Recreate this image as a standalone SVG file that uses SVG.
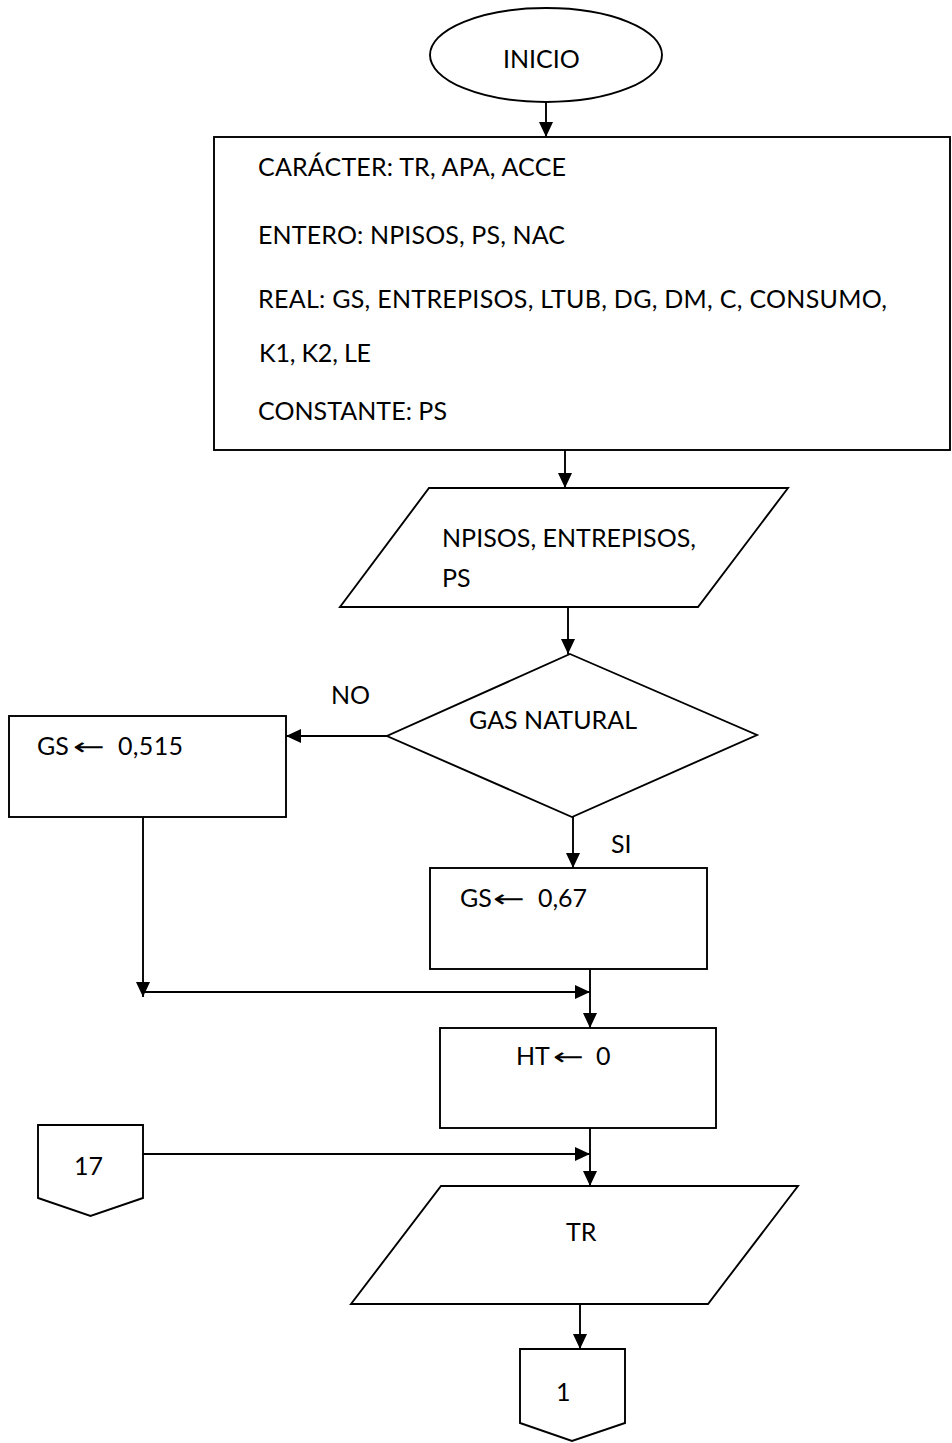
<svg xmlns="http://www.w3.org/2000/svg" width="952" height="1443" viewBox="0 0 952 1443">
  <style>
    .shape { fill: #ffffff; stroke: #000000; stroke-width: 1.9; }
    .edge { fill: none; stroke: #000000; stroke-width: 1.9; }
    .lbl { font-family: Lato, "Open Sans", sans-serif; font-size: 25px; fill: #000000; }
    .arr { font-family: "DejaVu Sans", sans-serif; font-size: 24px; fill: #000000; }
  </style>
  <defs>
    <marker id="head" viewBox="0 0 15 14" refX="15" refY="7" markerWidth="15" markerHeight="14" markerUnits="userSpaceOnUse" orient="auto">
      <path d="M0,0 L15,7 L0,14 Z" fill="#000000"/>
    </marker>
  </defs>
  <rect width="952" height="1443" fill="#ffffff"/>

  <!-- connectors -->
  <g id="connectors">
    <line class="edge" x1="546" y1="100" x2="546" y2="137" marker-end="url(#head)"/>
    <line class="edge" x1="565" y1="437" x2="565" y2="488" marker-end="url(#head)"/>
    <line class="edge" x1="568" y1="607" x2="568" y2="654" marker-end="url(#head)"/>
    <line class="edge" x1="387" y1="736" x2="286" y2="736" marker-end="url(#head)"/>
    <line class="edge" x1="573" y1="817" x2="573" y2="868" marker-end="url(#head)"/>
    <line class="edge" x1="143" y1="812" x2="143" y2="997" marker-end="url(#head)"/>
    <line class="edge" x1="143" y1="992" x2="590" y2="992" marker-end="url(#head)"/>
    <line class="edge" x1="590" y1="966" x2="590" y2="1028" marker-end="url(#head)"/>
    <line class="edge" x1="590" y1="1125" x2="590" y2="1186" marker-end="url(#head)"/>
    <line class="edge" x1="143" y1="1154" x2="590" y2="1154" marker-end="url(#head)"/>
    <line class="edge" x1="580" y1="1304" x2="580" y2="1349" marker-end="url(#head)"/>
  </g>

  <g id="inicio">
    <ellipse class="shape" cx="546" cy="55" rx="116" ry="47"/>
    <text class="lbl" x="503" y="68">INICIO</text>
  </g>

  <g id="declaraciones">
    <rect class="shape" x="214" y="137" width="736" height="313"/>
    <text class="lbl" x="258" y="176" textLength="308">CARÁCTER: TR, APA, ACCE</text>
    <text class="lbl" x="258" y="244" textLength="307">ENTERO: NPISOS, PS, NAC</text>
    <text class="lbl" x="258" y="308" textLength="629">REAL: GS, ENTREPISOS, LTUB, DG, DM, C, CONSUMO,</text>
    <text class="lbl" x="259" y="362" textLength="112">K1, K2, LE</text>
    <text class="lbl" x="258" y="420" textLength="189">CONSTANTE: PS</text>
  </g>

  <g id="lectura-datos">
    <polygon class="shape" points="429,488 788,488 698,607 340,607"/>
    <text class="lbl" x="442" y="547" textLength="254">NPISOS, ENTREPISOS,</text>
    <text class="lbl" x="442" y="587">PS</text>
  </g>

  <g id="gas-natural">
    <polygon class="shape" points="570,654 757,735 572,817 387,736"/>
    <text class="lbl" x="469" y="729" textLength="168">GAS NATURAL</text>
  </g>
  <text class="lbl" x="331" y="704">NO</text>
  <text class="lbl" x="611" y="853">SI</text>

  <g id="gs-0515">
    <rect class="shape" x="9" y="716" width="277" height="101"/>
    <text class="lbl" x="37" y="755">GS</text>
    <text class="arr" x="73" y="755" textLength="32" lengthAdjust="spacingAndGlyphs">←</text>
    <text class="lbl" x="118" y="755" textLength="65">0,515</text>
  </g>

  <g id="gs-067">
    <rect class="shape" x="430" y="868" width="277" height="101"/>
    <text class="lbl" x="460" y="907">GS</text>
    <text class="arr" x="493" y="907" textLength="32" lengthAdjust="spacingAndGlyphs">←</text>
    <text class="lbl" x="538" y="907" textLength="49">0,67</text>
  </g>

  <g id="ht-0">
    <rect class="shape" x="440" y="1028" width="276" height="100"/>
    <text class="lbl" x="516" y="1065">HT</text>
    <text class="arr" x="553" y="1065" textLength="31" lengthAdjust="spacingAndGlyphs">←</text>
    <text class="lbl" x="596" y="1065">0</text>
  </g>

  <g id="conector-17">
    <polygon class="shape" points="38,1125 143,1125 143,1198 90.5,1216 38,1198"/>
    <text class="lbl" x="74" y="1175">17</text>
  </g>

  <g id="lectura-tr">
    <polygon class="shape" points="441,1186 798,1186 708,1304 351,1304"/>
    <text class="lbl" x="566" y="1241">TR</text>
  </g>

  <g id="conector-1">
    <polygon class="shape" points="520,1349 625,1349 625,1423 572,1441 520,1423"/>
    <text class="lbl" x="556" y="1401">1</text>
  </g>
</svg>
